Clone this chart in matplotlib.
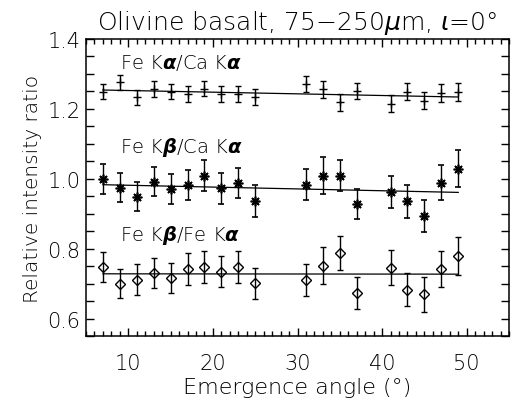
import numpy as np
import matplotlib
matplotlib.use("Agg")
import matplotlib.pyplot as plt
from matplotlib.ticker import MultipleLocator, FixedLocator

# ---- data ----
angle = [7, 9, 11, 13, 15, 17, 19, 21, 23, 25, 31, 33, 35, 37, 41, 43, 45, 47, 49]

ka_ca = [1.249, 1.276, 1.233, 1.256, 1.249, 1.242, 1.258, 1.242, 1.242, 1.235,
         1.271, 1.256, 1.219, 1.251, 1.215, 1.249, 1.223, 1.245, 1.248]
ka_ca_err = [0.022, 0.021, 0.022, 0.023, 0.022, 0.023, 0.022, 0.023, 0.023, 0.023,
             0.024, 0.024, 0.024, 0.024, 0.025, 0.025, 0.024, 0.025, 0.025]

kb_ca = [0.999, 0.975, 0.949, 0.992, 0.971, 0.982, 1.009, 0.973, 0.988, 0.936,
         0.983, 1.009, 1.009, 0.928, 0.962, 0.935, 0.894, 0.989, 1.029]
kb_ca_err = [0.042, 0.041, 0.041, 0.042, 0.043, 0.043, 0.045, 0.044, 0.044, 0.045,
             0.045, 0.052, 0.045, 0.044, 0.046, 0.046, 0.045, 0.049, 0.052]

kb_ka = [0.748, 0.700, 0.711, 0.731, 0.715, 0.742, 0.748, 0.734, 0.748, 0.701,
         0.711, 0.751, 0.787, 0.673, 0.745, 0.683, 0.669, 0.741, 0.779]
kb_ka_err = [0.043, 0.042, 0.044, 0.043, 0.043, 0.045, 0.045, 0.045, 0.046, 0.045,
             0.046, 0.053, 0.049, 0.046, 0.050, 0.048, 0.049, 0.051, 0.053]

# linear fits (value at first and last angle)
fit_x = [7, 49]
fit_ka_ca = [1.254, 1.234]
fit_kb_ca = [0.983, 0.961]
fit_kb_ka = [0.728, 0.727]

labels = [r"Fe K$\boldsymbol{\alpha}$/Ca K$\boldsymbol{\alpha}$",
          r"Fe K$\boldsymbol{\beta}$/Ca K$\boldsymbol{\alpha}$",
          r"Fe K$\boldsymbol{\beta}$/Fe K$\boldsymbol{\alpha}$"]
label_pos = [(9, 1.334), (9, 1.091), (9, 0.84)]

title = r"Olivine basalt, 75$-$250$\mu$m, $\iota$=0°"
xlabel = "Emergence angle (°)"
ylabel = "Relative intensity ratio"

# ---- styling ----
plt.rcParams["font.family"] = ["DejaVu Sans"]
plt.rcParams["font.weight"] = "light"
plt.rcParams["axes.titleweight"] = "light"
plt.rcParams["axes.labelweight"] = "light"
plt.rcParams["mathtext.fontset"] = "dejavusans"
tc = "black"

fig = plt.figure(figsize=(5.11, 4.06), dpi=100)
ax = fig.add_axes([86 / 511, 1 - 337 / 406, (509 - 86) / 511, (337 - 40) / 406])

ebkw = dict(color="black", ecolor="black", elinewidth=1.0, capsize=2.3,
            capthick=1.0, linestyle="none")
ax.errorbar(angle, ka_ca, yerr=ka_ca_err, marker="+", markersize=6,
            markeredgewidth=1.0, **ebkw)
ax.errorbar(angle, kb_ca, yerr=kb_ca_err, marker=(8, 2, 0), markersize=7,
            markeredgewidth=1.2, **ebkw)
ax.errorbar(angle, kb_ka, yerr=kb_ka_err, marker="D", markersize=5,
            markerfacecolor="none", markeredgewidth=1.0, **ebkw)

for fy in (fit_ka_ca, fit_kb_ca, fit_kb_ka):
    ax.plot(fit_x, fy, color="black", linewidth=0.9)

for (lx, ly), lab in zip(label_pos, labels):
    ax.text(lx, ly, lab, fontsize=14, color=tc, ha="left", va="center",
            fontweight="light")

ax.set_xlim(5, 55)
ax.set_ylim(0.55, 1.4)
ax.xaxis.set_major_locator(MultipleLocator(10))
ax.xaxis.set_minor_locator(MultipleLocator(1))
ax.yaxis.set_major_locator(FixedLocator([0.6, 0.8, 1.0, 1.2, 1.4]))
ax.yaxis.set_minor_locator(MultipleLocator(0.05))
ax.yaxis.set_major_formatter(matplotlib.ticker.FormatStrFormatter("%.1f"))

ax.tick_params(which="both", direction="in", top=True, right=True,
               colors="black", labelcolor=tc, labelsize=15, width=1.0)
ax.tick_params(axis="x", which="major", length=6, pad=12)
ax.tick_params(axis="x", which="minor", length=3.5)
ax.tick_params(axis="y", which="both", length=6, pad=4)
for sp in ax.spines.values():
    sp.set_linewidth(1.1)

ax.set_xlabel(xlabel, fontsize=16, color=tc, labelpad=3, fontweight="light")
ax.set_ylabel(ylabel, fontsize=14.5, color=tc, labelpad=4, fontweight="light")
ax.set_title(title, fontsize=18, color=tc, pad=7, fontweight="light")

fig.savefig("out.png", dpi=100)
